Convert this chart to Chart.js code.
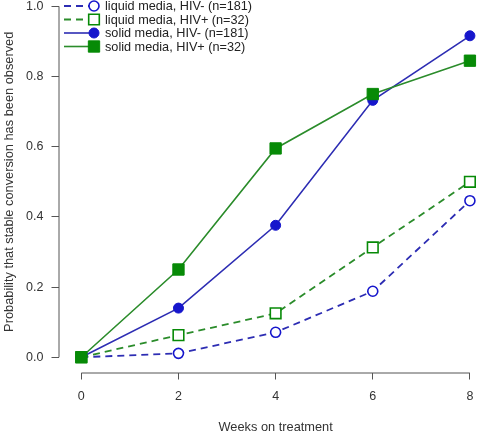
<!DOCTYPE html>
<html>
<head>
<meta charset="utf-8">
<script src="https://cdn.jsdelivr.net/npm/chart.js@4"></script>
<style>
  html, body { margin: 0; padding: 0; background: #fff; }
  #wrap { width: 484px; height: 433px; }
</style>
</head>
<body>
<div id="wrap"><canvas id="chart" width="484" height="433"></canvas></div>
<script>
// Weeks on treatment
const weeks = [0, 2, 4, 6, 8];

// Probability that stable conversion has been observed
const liquidHivNeg = [0, 0.011, 0.071, 0.188, 0.446];
const liquidHivPos = [0, 0.063, 0.125, 0.313, 0.500];
const solidHivNeg = [0, 0.140, 0.376, 0.732, 0.916];
const solidHivPos = [0, 0.250, 0.595, 0.750, 0.845];

const seriesLabels = [
  'liquid media, HIV- (n=181)',
  'liquid media, HIV+ (n=32)',
  'solid media, HIV- (n=181)',
  'solid media, HIV+ (n=32)'
];

const xTicks = [0, 2, 4, 6, 8];
const yTicks = [0, 0.2, 0.4, 0.6, 0.8, 1.0];

const BLUE_LINE = '#2d2db3';
const BLUE_PT = '#1616cc';
const GREEN_LINE = '#2b8c2b';
const GREEN_PT = '#078a07';
const AXIS = '#555';
const FONT = '"Liberation Sans", Arial, sans-serif';

const toPoints = vals => vals.map((v, i) => ({ x: weeks[i], y: v }));

const datasets = [
  {
    label: seriesLabels[0],
    data: toPoints(liquidHivNeg),
    borderColor: BLUE_LINE,
    borderWidth: 1.8,
    borderDash: [7, 5],
    pointStyle: 'circle',
    pointRadius: 5,
    pointBorderColor: BLUE_PT,
    pointBackgroundColor: '#fff',
    pointBorderWidth: 1.6,
    order: 4
  },
  {
    label: seriesLabels[1],
    data: toPoints(liquidHivPos),
    borderColor: GREEN_LINE,
    borderWidth: 1.8,
    borderDash: [7, 5],
    pointStyle: 'rect',
    pointRadius: 7.5,
    pointBorderColor: GREEN_PT,
    pointBackgroundColor: '#fff',
    pointBorderWidth: 1.6,
    order: 3
  },
  {
    label: seriesLabels[2],
    data: toPoints(solidHivNeg),
    borderColor: BLUE_LINE,
    borderWidth: 1.6,
    pointStyle: 'circle',
    pointRadius: 5,
    pointBorderColor: BLUE_PT,
    pointBackgroundColor: BLUE_PT,
    pointBorderWidth: 1,
    order: 2
  },
  {
    label: seriesLabels[3],
    data: toPoints(solidHivPos),
    borderColor: GREEN_LINE,
    borderWidth: 1.6,
    pointStyle: 'rect',
    pointRadius: 8,
    pointBorderColor: GREEN_PT,
    pointBackgroundColor: GREEN_PT,
    pointBorderWidth: 1,
    order: 1
  }
];

// small marker drawer for the legend (same shapes as the chart points)
function legendMarker(ctx, style, r, x, y) {
  ctx.beginPath();
  if (style === 'rect') {
    const s = Math.SQRT1_2 * r;
    ctx.rect(x - s, y - s, 2 * s, 2 * s);
  } else {
    ctx.arc(x, y, r, 0, Math.PI * 2);
  }
  ctx.fill();
  ctx.stroke();
}

// R-style axis lines (only between first and last tick), axis titles and legend
const rStyle = {
  id: 'rStyle',
  afterDraw(chart) {
    const { ctx, scales } = chart;
    const xs = scales.x, ys = scales.y;
    const area = chart.chartArea;
    ctx.save();
    ctx.strokeStyle = AXIS;
    ctx.lineWidth = 1;
    ctx.beginPath();
    ctx.moveTo(area.left + 0.5, ys.getPixelForValue(yTicks[0]));
    ctx.lineTo(area.left + 0.5, ys.getPixelForValue(yTicks[yTicks.length - 1]));
    ctx.moveTo(xs.getPixelForValue(xTicks[0]), area.bottom + 0.5);
    ctx.lineTo(xs.getPixelForValue(xTicks[xTicks.length - 1]), area.bottom + 0.5);
    ctx.stroke();

    ctx.fillStyle = '#333';
    ctx.textAlign = 'center';
    ctx.textBaseline = 'middle';
    ctx.font = '12.8px ' + FONT;
    const midX = (xs.getPixelForValue(xTicks[0]) + xs.getPixelForValue(xTicks[xTicks.length - 1])) / 2;
    ctx.fillText('Weeks on treatment', midX, 427);
    const midY = (ys.getPixelForValue(0) + ys.getPixelForValue(1)) / 2;
    ctx.translate(9, midY);
    ctx.rotate(-Math.PI / 2);
    ctx.fillText('Probability that stable conversion has been observed', 0, 0);
    ctx.restore();

    // legend
    ctx.save();
    const rowY = [6, 19.5, 33, 46.5];
    chart.data.datasets.forEach((ds, i) => {
      const y = rowY[i];
      ctx.strokeStyle = ds.borderColor;
      ctx.lineWidth = ds.borderWidth;
      ctx.setLineDash(ds.borderDash || []);
      ctx.beginPath();
      ctx.moveTo(64, y);
      ctx.lineTo(93, y);
      ctx.stroke();
      ctx.setLineDash([]);
      ctx.fillStyle = ds.pointBackgroundColor;
      ctx.strokeStyle = ds.pointBorderColor;
      ctx.lineWidth = ds.pointBorderWidth;
      legendMarker(ctx, ds.pointStyle, ds.pointRadius, 94, y);
      ctx.fillStyle = '#222';
      ctx.font = '12.7px ' + FONT;
      ctx.textAlign = 'left';
      ctx.textBaseline = 'middle';
      ctx.fillText(ds.label, 105, y + 0.5);
    });
    ctx.restore();
  }
};

new Chart(document.getElementById('chart'), {
  type: 'line',
  data: { datasets },
  plugins: [rStyle],
  options: {
    responsive: false,
    animation: false,
    layout: { padding: 0, autoPadding: false },
    plugins: {
      legend: { display: false },
      tooltip: { enabled: false }
    },
    scales: {
      x: {
        type: 'linear',
        min: -0.47,
        max: 8.29,
        afterBuildTicks: s => { s.ticks = xTicks.map(v => ({ value: v })); },
        afterFit: s => { s.height = 60.5; s.paddingLeft = 0; s.paddingRight = 0; },
        border: { display: false },
        grid: { drawOnChartArea: false, drawTicks: true, tickLength: 7, color: AXIS },
        ticks: {
          color: '#333',
          font: { family: FONT, size: 12.5 },
          padding: 10,
          maxRotation: 0,
          callback: v => String(v)
        }
      },
      y: {
        type: 'linear',
        min: -0.0435,
        max: 1.018,
        afterBuildTicks: s => { s.ticks = yTicks.map(v => ({ value: v })); },
        afterFit: s => { s.width = 58.5; s.paddingTop = 0; s.paddingBottom = 0; },
        border: { display: false },
        grid: { drawOnChartArea: false, drawTicks: true, tickLength: 7, color: AXIS },
        ticks: {
          color: '#333',
          font: { family: FONT, size: 12.5 },
          padding: 8,
          callback: v => Number(v).toFixed(1)
        }
      }
    }
  }
});
</script>
</body>
</html>
